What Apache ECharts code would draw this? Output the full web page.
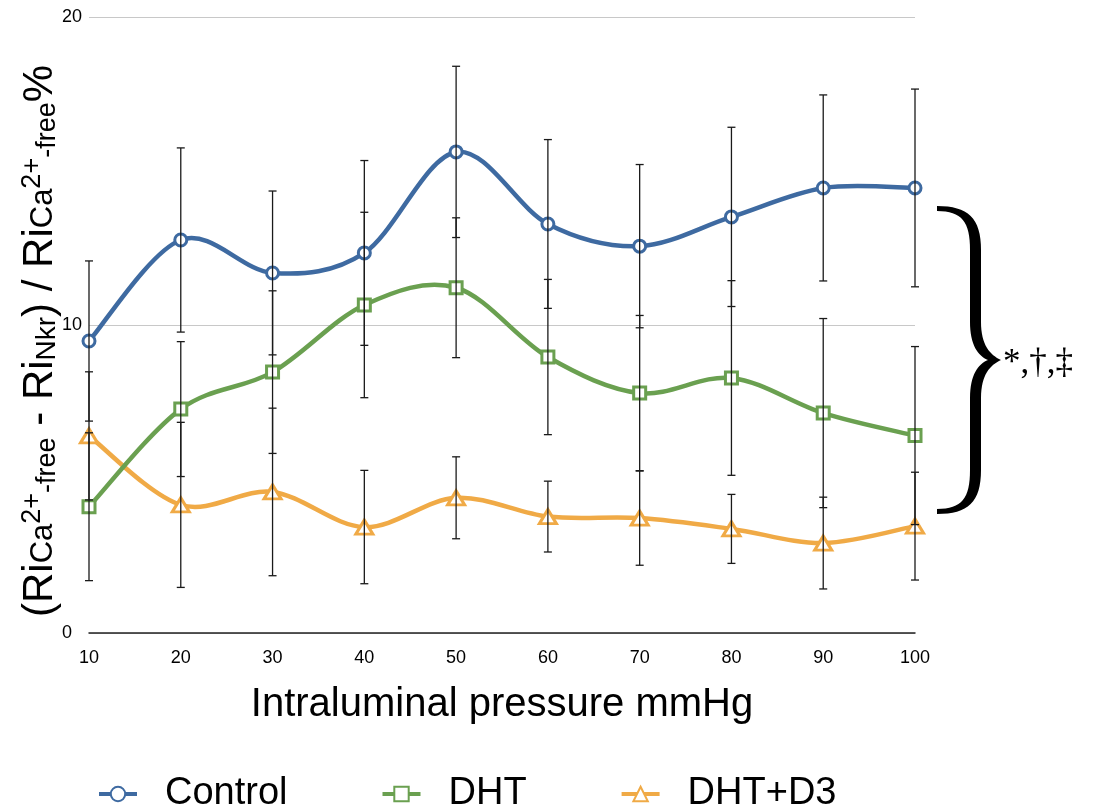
<!DOCTYPE html>
<html><head><meta charset="utf-8">
<script src="https://cdn.jsdelivr.net/npm/echarts@6/dist/echarts.min.js"></script>
<style>html,body{margin:0;padding:0;background:#fff}#c{width:1098px;height:808px}</style>
</head><body><div id="c"></div>
<script>
// ---- data ----
const pressures = ['10','20','30','40','50','60','70','80','90','100'];
const controlMean = [9.48, 12.76, 11.69, 12.34, 15.62, 13.28, 12.56, 13.51, 14.45, 14.45];
const controlErr  = [2.60, 2.99, 2.66, 3.00, 2.78, 2.74, 2.65, 2.91, 3.02, 3.21];
const dhtMean     = [4.10, 7.27, 8.47, 10.65, 11.21, 8.96, 7.79, 8.28, 7.14, 6.41];
const dhtErr      = [2.40, 2.19, 2.64, 3.01, 2.27, 2.52, 2.52, 3.16, 3.07, 2.89];
const d3Mean      = [6.40, 4.16, 4.58, 3.44, 4.39, 3.78, 3.73, 3.38, 2.92, 3.47];
const d3Err       = [2.08, 2.68, 2.72, 1.84, 1.33, 1.15, 1.53, 1.12, 1.49, 1.75];
const seriesNames = ['Control', 'DHT', 'DHT+D3'];
const yTickMin = 0, yTickMax = 20, yTickStep = 10;

const FONT = "'Liberation Sans', Arial, Helvetica, sans-serif";
const colors = ['#3E6AA1', '#6AA050', '#F0AA46'];
const LINE_W = 4.5;

function errSeries(name, mean, err) {
  return {
    type: 'custom', name: name + ' error', silent: true, z: 10,
    renderItem: function (params, api) {
      const x = api.value(0);
      const lo = api.coord([x, api.value(1)]);
      const hi = api.coord([x, api.value(2)]);
      const hw = 4;
      const st = { stroke: '#1a1a1a', lineWidth: 1.3, fill: 'none' };
      return { type: 'group', children: [
        { type: 'line', shape: { x1: lo[0], y1: lo[1], x2: hi[0], y2: hi[1] }, style: st },
        { type: 'line', shape: { x1: lo[0] - hw, y1: lo[1], x2: lo[0] + hw, y2: lo[1] }, style: st },
        { type: 'line', shape: { x1: hi[0] - hw, y1: hi[1], x2: hi[0] + hw, y2: hi[1] }, style: st }
      ]};
    },
    encode: { x: 0, y: [1, 2] },
    data: mean.map((m, i) => [i, m - err[i], m + err[i]])
  };
}

// smoothed connecting curve (Catmull-Rom style through the data points)
function curveSeries(name, mean, color) {
  const n = mean.length;
  return {
    type: 'custom', name: name + ' curve', silent: true, z: 2,
    renderItem: function (params, api) {
      const i = api.value(0);
      if (i >= n - 1) return null;
      const P = k => { const j = Math.max(0, Math.min(n - 1, k)); return api.coord([j, mean[j]]); };
      const p0 = P(i - 1), p1 = P(i), p2 = P(i + 1), p3 = P(i + 2);
      const t = 1 / 6;
      return {
        type: 'bezierCurve',
        shape: {
          x1: p1[0], y1: p1[1], x2: p2[0], y2: p2[1],
          cpx1: p1[0] + (p2[0] - p0[0]) * t, cpy1: p1[1] + (p2[1] - p0[1]) * t,
          cpx2: p2[0] - (p3[0] - p1[0]) * t, cpy2: p2[1] - (p3[1] - p1[1]) * t
        },
        style: { stroke: color, lineWidth: LINE_W, fill: 'none', lineCap: 'round' }
      };
    },
    encode: { x: 0, y: 1 },
    data: mean.map((m, i) => [i, m])
  };
}

function markerSeries(name, mean, color, symbol, size) {
  return {
    name: name, type: 'line', data: mean,
    symbol: symbol, symbolSize: size, showAllSymbol: true,
    color: color,
    lineStyle: { width: LINE_W, color: color, opacity: 0 },
    itemStyle: { color: '#fff', borderColor: color, borderWidth: 3 },
    z: 3
  };
}

// decorative brace outline (annotation, sampled from cubic curves)
function bracePoints() {
  const segs = [
    [[937,206],[968,206],[981,218],[981,250]],
    [[981,250],[981,286],[981,286],[981,322]],
    [[981,322],[981,345],[990,355],[1001,360]],
    [[1001,360],[990,365],[981,375],[981,398]],
    [[981,398],[981,434],[981,434],[981,470]],
    [[981,470],[981,502],[968,514],[937,514]],
    [[937,514],[937,512],[937,511],[937,509]],
    [[937,509],[962,509],[970,498],[970,470]],
    [[970,470],[970,434],[970,434],[970,398]],
    [[970,398],[970,375],[978,364],[988,360]],
    [[988,360],[978,356],[970,345],[970,322]],
    [[970,322],[970,286],[970,286],[970,250]],
    [[970,250],[970,222],[962,211],[937,211]]
  ];
  const pts = [];
  segs.forEach(s => {
    for (let k = 0; k <= 16; k++) {
      const t = k / 16, u = 1 - t;
      const a = u*u*u, b = 3*u*u*t, c = 3*u*t*t, d = t*t*t;
      pts.push([a*s[0][0]+b*s[1][0]+c*s[2][0]+d*s[3][0], a*s[0][1]+b*s[1][1]+c*s[2][1]+d*s[3][1]]);
    }
  });
  return pts;
}

const chart = echarts.init(document.getElementById('c'), null, { renderer: 'canvas' });
chart.setOption({
  animation: false,
  backgroundColor: '#fff',
  textStyle: { fontFamily: FONT },
  grid: { left: 89, right: 183, top: 17, bottom: 175, containLabel: false },
  xAxis: {
    type: 'category', data: pressures, boundaryGap: false,
    axisLine: { show: true, lineStyle: { color: '#222', width: 1.5 } },
    axisTick: { show: false },
    axisLabel: { color: '#000', fontSize: 18, margin: 16, fontFamily: FONT },
    name: 'Intraluminal pressure mmHg', nameLocation: 'middle', nameGap: 52,
    nameTextStyle: { color: '#000', fontSize: 40, fontFamily: FONT },
    splitLine: { show: false }
  },
  yAxis: {
    type: 'value', min: yTickMin, max: yTickMax, interval: yTickStep,
    axisLine: { show: false }, axisTick: { show: false },
    axisLabel: { color: '#000', fontSize: 18, margin: 27, align: 'left', fontFamily: FONT },
    splitLine: { show: true, lineStyle: { color: '#c8c8c8', width: 1 } }
  },
  legend: {
    data: seriesNames, left: 92, top: 770, orient: 'horizontal',
    itemWidth: 38, itemHeight: 18, itemGap: 93,
    lineStyle: { opacity: 1, width: 4 },
    textStyle: { color: '#000', fontSize: 38, fontFamily: FONT, padding: [0, 0, 0, 23] }
  },
  graphic: [
    {
      type: 'text', x: 40, y: 341, rotation: Math.PI / 2,
      style: {
        text: '{b|(Ri}{m|Ca}{sup|2+}{sub|-free}{b| - Ri}{m2|Nkr}{b|) / Ri}{m|Ca}{sup|2+}{sub|-free}{b|%}',
        align: 'center', verticalAlign: 'middle', fill: '#000',
        rich: {
          b:   { fontSize: 42, fontFamily: FONT, fill: '#000' },
          m:   { fontSize: 31, fontFamily: FONT, fill: '#000', padding: [7, 0, 0, 0] },
          m2:  { fontSize: 28, fontFamily: FONT, fill: '#000', padding: [14, 0, 0, 0] },
          sup: { fontSize: 27, fontFamily: FONT, fill: '#000', padding: [0, 0, 14, 0] },
          sub: { fontSize: 27, fontFamily: FONT, fill: '#000', padding: [16, 0, 0, 0] }
        }
      }
    },
    {
      type: 'polygon',
      shape: { points: bracePoints() },
      style: { fill: '#000' }
    },
    {
      type: 'text', x: 1003, y: 364,
      style: { text: '*,†,‡', fontSize: 35, fontFamily: "'Liberation Serif', 'Times New Roman', serif", fill: '#000', verticalAlign: 'middle', align: 'left' }
    }
  ],
  series: [
    curveSeries('DHT+D3', d3Mean, colors[2]),
    curveSeries('DHT', dhtMean, colors[1]),
    curveSeries('Control', controlMean, colors[0]),
    markerSeries('DHT+D3', d3Mean, colors[2], 'triangle', [17, 14]),
    markerSeries('DHT', dhtMean, colors[1], 'rect', 12),
    markerSeries('Control', controlMean, colors[0], 'circle', 12),
    errSeries('Control', controlMean, controlErr),
    errSeries('DHT', dhtMean, dhtErr),
    errSeries('DHT+D3', d3Mean, d3Err)
  ]
});
</script></body></html>
